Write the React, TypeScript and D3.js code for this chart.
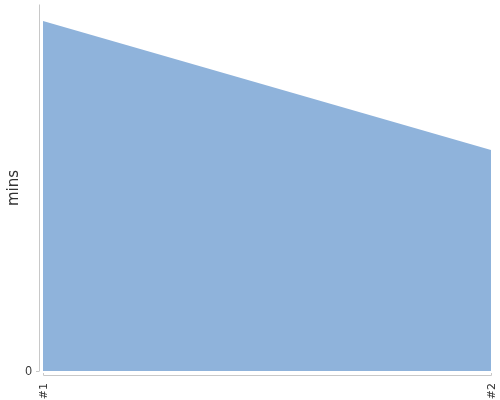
import { useEffect, useRef } from "react";
import * as d3 from "d3";

const categories = ["#1", "#2"];
const minutes = [9.54, 6.02];
const yDomain = [0, 10];

export default function App() {
  const svgRef = useRef<SVGSVGElement>(null);

  useEffect(() => {
    if (!svgRef.current) return;
    const svg = d3.select(svgRef.current);
    svg.selectAll("*").remove();

    const x = d3.scalePoint<string>().domain(categories).range([43, 491]);
    const y = d3.scaleLinear().domain(yDomain).range([371, 4]);

    const area = d3
      .area<number>()
      .x((_, i) => x(categories[i])!)
      .y0(y(0))
      .y1((d) => y(d));

    svg
      .append("path")
      .datum(minutes)
      .attr("d", area)
      .attr("fill", "#8fb3db");

    // x axis, labels rotated
    const xAxis = svg
      .append("g")
      .attr("transform", "translate(0,375)")
      .call(d3.axisBottom(x).tickSizeInner(0).tickSizeOuter(-2).tickPadding(8));
    xAxis.select(".domain").attr("stroke", "#c8c8c8");
    xAxis
      .selectAll("text")
      .attr("transform", "rotate(-90)")
      .attr("text-anchor", "end")
      .attr("x", -8)
      .attr("y", 0)
      .attr("dy", "0.35em")
      .style("fill", "#333")
      .style("font-size", "11px")
      .style("font-family", "'DejaVu Sans', sans-serif");

    // y axis, only 0 tick
    const yAxis = svg
      .append("g")
      .attr("transform", "translate(39,0)")
      .call(d3.axisLeft(y).tickValues([0]).tickSizeInner(3).tickSizeOuter(0).tickPadding(4));
    yAxis.select(".domain").attr("stroke", "#c8c8c8");
    yAxis.selectAll(".tick line").attr("stroke", "#c8c8c8");
    yAxis
      .selectAll("text")
      .style("fill", "#333")
      .style("font-size", "12px")
      .style("font-family", "Arial, 'Liberation Sans', sans-serif");

    svg
      .append("text")
      .attr("transform", "translate(18,188) rotate(-90)")
      .attr("text-anchor", "middle")
      .style("fill", "#333")
      .style("font-size", "15px")
      .style("font-family", "'DejaVu Sans', sans-serif")
      .text("mins");
  }, []);

  return (
    <div style={{ position: "fixed", left: 0, top: 0 }}>
      <svg ref={svgRef} width={500} height={400} style={{ display: "block" }} />
    </div>
  );
}
